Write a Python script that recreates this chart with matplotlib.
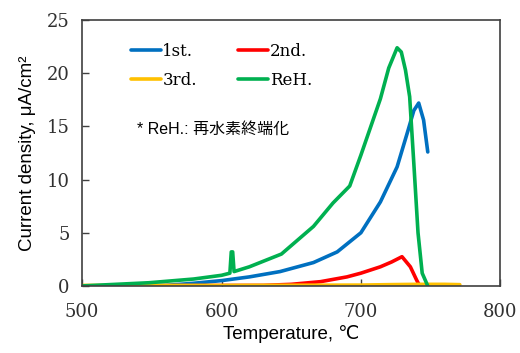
import numpy as np
import matplotlib.pyplot as plt

# data
t_1st = [500, 560, 580, 600, 620, 642, 666, 683, 700, 714, 726, 734, 738, 741.5, 745, 748]
j_1st = [0.0, 0.05, 0.25, 0.5, 0.85, 1.35, 2.2, 3.2, 5.0, 7.9, 11.2, 14.7, 16.5, 17.2, 15.6, 12.6]

t_2nd = [500, 630, 650, 671, 690, 700, 714, 722, 729.5, 735.5, 740, 742]
j_2nd = [0.0, 0.05, 0.15, 0.4, 0.85, 1.2, 1.8, 2.25, 2.75, 1.8, 0.55, 0.05]

t_3rd = [500, 600, 700, 720, 740, 760, 771]
j_3rd = [0.05, 0.05, 0.08, 0.12, 0.15, 0.15, 0.12]

t_reh = [500, 548, 580, 600, 606, 607, 608, 609, 620, 643, 666, 680, 692, 700, 714, 720, 726, 729, 732, 735, 738, 741, 744, 748]
j_reh = [0.0, 0.3, 0.65, 1.0, 1.2, 3.2, 3.2, 1.35, 1.8, 3.0, 5.6, 7.8, 9.4, 12.3, 17.6, 20.5, 22.4, 22.0, 20.3, 17.8, 11.5, 5.0, 1.2, 0.0]

fig = plt.figure(figsize=(5.2, 3.53), dpi=100)
ax = fig.add_axes([0.158, 0.19, 0.804, 0.753])

ax.plot(t_1st, j_1st, color="#0070C0", lw=2.6, solid_capstyle="round", label="1st.")
ax.plot(t_2nd, j_2nd, color="#FF0000", lw=2.6, solid_capstyle="round", label="2nd.")
ax.plot(t_3rd, j_3rd, color="#FFC000", lw=2.6, solid_capstyle="round", label="3rd.")
ax.plot(t_reh, j_reh, color="#00B050", lw=2.6, solid_capstyle="round", label="ReH.")

ax.set_xlim(500, 800)
ax.set_ylim(0, 25)
ax.set_xticks([500, 600, 700, 800])
ax.set_yticks([0, 5, 10, 15, 20, 25])
ax.tick_params(direction="in", length=5, width=1, color="#404040")
ax.tick_params(axis="x", pad=12)
ax.tick_params(axis="y", pad=9)
for lbl in ax.get_xticklabels() + ax.get_yticklabels():
    lbl.set_family("DejaVu Serif")
    lbl.set_fontsize(13)
    lbl.set_color("#303030")
for s in ax.spines.values():
    s.set_color("#404040")
    s.set_linewidth(1.2)

ax.set_xlabel("Temperature, ℃", fontsize=13.5, family=["Liberation Sans", "DejaVu Sans"], labelpad=3)
ax.set_ylabel("Current density, μA/cm²", fontsize=13.5, family=["Liberation Sans", "DejaVu Sans"], labelpad=8)

h, l = ax.get_legend_handles_labels()
order = [0, 2, 1, 3]
ax.legend([h[i] for i in order], [l[i] for i in order], ncol=2, frameon=False,
          loc="upper left", bbox_to_anchor=(0.08, 0.97), prop={"family": "DejaVu Serif", "size": 12},
          handlelength=1.8, handletextpad=0.1, columnspacing=2.5, labelspacing=0.7)

ax.text(0.13, 0.59, "* ReH.: 再水素終端化", transform=ax.transAxes, fontsize=11.5,
        family=["Liberation Sans", "Noto Sans CJK JP"], va="center")

fig.savefig("out.png", dpi=100)
